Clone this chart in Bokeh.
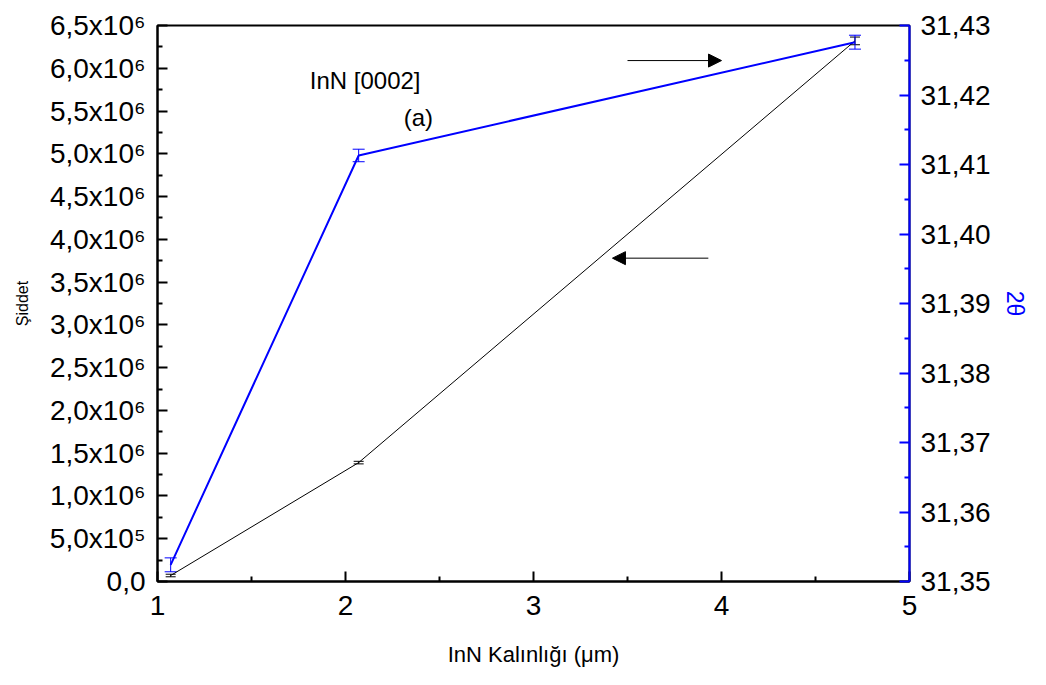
from bokeh.plotting import figure
from bokeh.models import (Range1d, LinearAxis, FixedTicker, ColumnDataSource, Whisker,
                          TeeHead, Arrow, NormalHead, Label)
from bokeh.embed import file_html
from bokeh.resources import INLINE

# ---- data ----
thickness = [1.07, 2.07, 4.71]
intensity = [70000, 1390000, 6320000]
intensity_err = [15000, 15000, 45000]
two_theta = [31.3524, 31.4113, 31.4276]
two_theta_err = [0.0010, 0.0009, 0.0010]

x_ticks = [1, 2, 3, 4, 5]
x_minor = [1.5, 2.5, 3.5, 4.5]
y_ticks = [0, 500000, 1000000, 1500000, 2000000, 2500000, 3000000, 3500000,
           4000000, 4500000, 5000000, 5500000, 6000000, 6500000]
y_labels = ["0,0", "5,0x10\u2075", "1,0x10\u2076", "1,5x10\u2076", "2,0x10\u2076",
            "2,5x10\u2076", "3,0x10\u2076", "3,5x10\u2076", "4,0x10\u2076",
            "4,5x10\u2076", "5,0x10\u2076", "5,5x10\u2076", "6,0x10\u2076", "6,5x10\u2076"]
r_ticks = [31.35, 31.36, 31.37, 31.38, 31.39, 31.40, 31.41, 31.42, 31.43]
r_labels = ["31,35", "31,36", "31,37", "31,38", "31,39", "31,40", "31,41", "31,42", "31,43"]

# annotations (data coordinates, left axis)
title_text = ["InN [0002]", "(a)"]
title_x = [1.81, 2.31]
title_y = [5.86e6, 5.42e6]
arrow_right = [3.50, 6.09e6, 4.00, 6.09e6]
arrow_left = [3.93, 3.78e6, 3.42, 3.78e6]

FONT = "Liberation Sans"
BLUE = "#0000FF"

p = figure(width=1030, height=669, output_backend="svg", toolbar_location=None,
           x_range=Range1d(1, 5), y_range=Range1d(0, 6500000),
           min_border_left=157, min_border_right=120, min_border_top=25,
           min_border_bottom=88)
p.xgrid.visible = False
p.ygrid.visible = False
p.outline_line_color = "black"
p.outline_line_width = 2
p.background_fill_color = "white"
p.border_fill_color = "white"

p.extra_y_ranges = {"tt": Range1d(31.35, 31.43)}

# axes styling
xa = p.xaxis[0]
xa.ticker = FixedTicker(ticks=x_ticks, minor_ticks=x_minor)
xa.axis_label = "InN Kalınlığı (μm)"
ya = p.yaxis[0]
ya.ticker = FixedTicker(ticks=y_ticks, minor_ticks=[v + 250000 for v in y_ticks[:-1]])
ya.major_label_overrides = {t: l for t, l in zip(y_ticks, y_labels)}
ya.axis_label = "Şiddet"

ra = LinearAxis(y_range_name="tt")
ra.ticker = FixedTicker(ticks=r_ticks, minor_ticks=[round(v + 0.005, 3) for v in r_ticks[:-1]])
ra.major_label_overrides = {t: l for t, l in zip(r_ticks, r_labels)}
ra.axis_label = "2θ"
p.add_layout(ra, "right")

for ax in (xa, ya, ra):
    ax.major_tick_in = 10
    ax.major_tick_out = 0
    ax.minor_tick_in = 5
    ax.minor_tick_out = 0
    ax.axis_line_width = 2
    ax.major_tick_line_width = 2
    ax.minor_tick_line_width = 2
    ax.major_label_text_font = FONT
    ax.major_label_text_font_size = "28px"
    ax.major_label_text_color = "black"
    ax.axis_label_text_font = FONT
    ax.axis_label_text_font_style = "normal"
    ax.axis_label_text_color = "black"

xa.major_label_standoff = 14
xa.axis_label_text_font_size = "22px"
xa.axis_label_standoff = 24
ya.major_label_standoff = 12
ya.axis_label_text_font_size = "16px"
ya.axis_label_standoff = 16
ra.major_label_standoff = 11
ra.axis_label_text_font_size = "23px"
ra.axis_label_standoff = 8
ra.axis_label_text_color = BLUE
ra.axis_line_color = BLUE
ra.major_tick_line_color = BLUE
ra.minor_tick_line_color = BLUE

# data sources
src_i = ColumnDataSource(dict(x=thickness, y=intensity,
                              lo=[v - e for v, e in zip(intensity, intensity_err)],
                              hi=[v + e for v, e in zip(intensity, intensity_err)]))
src_t = ColumnDataSource(dict(x=thickness, y=two_theta,
                              lo=[v - e for v, e in zip(two_theta, two_theta_err)],
                              hi=[v + e for v, e in zip(two_theta, two_theta_err)]))

p.line("x", "y", source=src_i, line_color="black", line_width=1)
p.line("x", "y", source=src_t, line_color=BLUE, line_width=2, y_range_name="tt")

wi = Whisker(source=src_i, base="x", lower="lo", upper="hi", dimension="height",
             line_color="black", line_width=1,
             upper_head=TeeHead(size=10, line_color="black", line_width=1),
             lower_head=TeeHead(size=10, line_color="black", line_width=1))
p.add_layout(wi)
wt = Whisker(source=src_t, base="x", lower="lo", upper="hi", dimension="height",
             line_color=BLUE, line_width=1, y_range_name="tt",
             upper_head=TeeHead(size=12, line_color=BLUE, line_width=1),
             lower_head=TeeHead(size=12, line_color=BLUE, line_width=1))
p.add_layout(wt)

for a in (arrow_right, arrow_left):
    p.add_layout(Arrow(end=NormalHead(size=13, fill_color="black", line_color="black"),
                       x_start=a[0], y_start=a[1], x_end=a[2], y_end=a[3],
                       line_color="black", line_width=1))

for t, x, y in zip(title_text, title_x, title_y):
    p.add_layout(Label(x=x, y=y, text=t, text_font=FONT, text_font_size="24px",
                       text_color="black", text_baseline="alphabetic"))

open("out.html", "w").write(file_html(p, INLINE))
